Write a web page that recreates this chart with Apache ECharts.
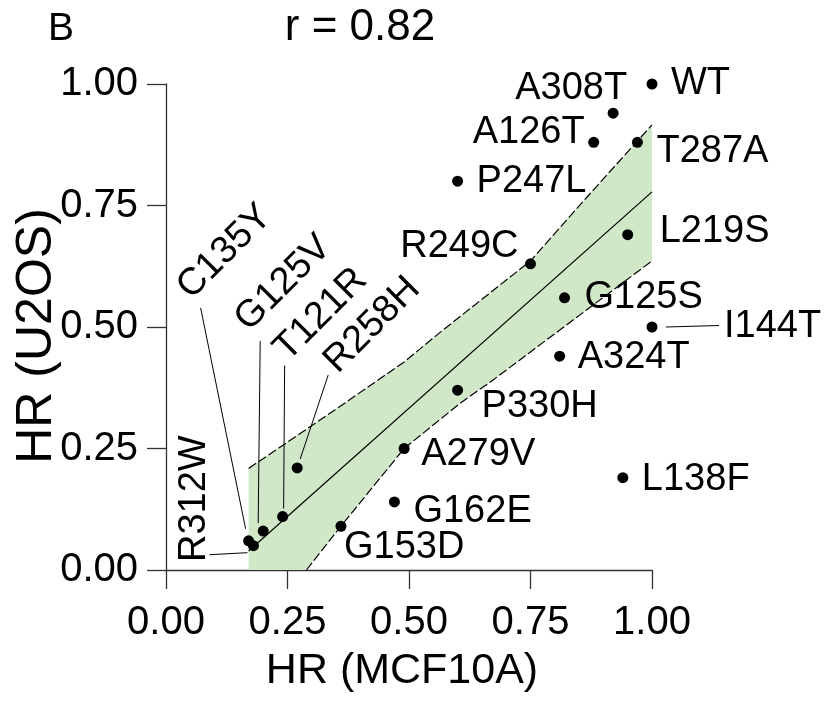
<!DOCTYPE html>
<html>
<head>
<meta charset="utf-8">
<script src="https://cdn.jsdelivr.net/npm/echarts@6/dist/echarts.min.js"></script>
<style>
  html, body { margin: 0; padding: 0; background: #fff; }
  #chart { width: 825px; height: 711px; }
</style>
</head>
<body>
<div id="chart"></div>
<script>
// mutants, HR in MCF10A (x) vs HR in U2OS (y)
const names = ['WT', 'A308T', 'A126T', 'T287A', 'P247L', 'L219S', 'R249C', 'G125S', 'I144T', 'A324T',
  'P330H', 'A279V', 'L138F', 'G162E', 'G153D', 'R258H', 'T121R', 'G125V', 'C135Y', 'R312W'];
const hrMCF10A = [1.00, 0.92, 0.88, 0.97, 0.60, 0.95, 0.75, 0.82, 1.00, 0.81,
  0.60, 0.49, 0.94, 0.47, 0.36, 0.27, 0.24, 0.20, 0.17, 0.18];
const hrU2OS = [1.00, 0.94, 0.88, 0.88, 0.80, 0.69, 0.63, 0.56, 0.50, 0.44,
  0.37, 0.25, 0.19, 0.14, 0.09, 0.21, 0.11, 0.08, 0.06, 0.05];

// regression line and its confidence band
const fitX = [0.17, 1.00];
const fitY = [0.039, 0.778];
const bandUpperX = [0.17, 0.36, 0.49, 0.564, 0.75, 0.866, 1.00];
const bandUpperY = [0.209, 0.338, 0.428, 0.489, 0.636, 0.767, 0.916];
const bandLowerX = [0.289, 0.359, 0.49, 0.605, 0.673, 1.00];
const bandLowerY = [0.000, 0.089, 0.250, 0.343, 0.391, 0.636];

const tickLabels = ['0.00', '0.25', '0.50', '0.75', '1.00'];

const FONT = 'Liberation Sans, Arial, sans-serif';

// label placement (pixels from the dot)
const labelPos = {
  WT:    { align: 'left',  dx: 19,  dy: 0 },
  A308T: { align: 'right', dx: 14,  dy: -25 },
  A126T: { align: 'right', dx: -9,  dy: -10 },
  T287A: { align: 'left',  dx: 19,  dy: 9 },
  P247L: { align: 'left',  dx: 19,  dy: 0 },
  L219S: { align: 'left',  dx: 32,  dy: -3 },
  R249C: { align: 'right', dx: -12, dy: -17 },
  G125S: { align: 'left',  dx: 20,  dy: 0 },
  I144T: { align: 'left',  dx: 72,  dy: 0, lead: [[14, 0], [67, -1.5]] },
  A324T: { align: 'left',  dx: 18,  dy: 1 },
  P330H: { align: 'left',  dx: 24,  dy: 16 },
  A279V: { align: 'left',  dx: 17,  dy: 6 },
  L138F: { align: 'left',  dx: 19,  dy: 2 },
  G162E: { align: 'left',  dx: 19,  dy: 10 },
  G153D: { align: 'left',  dx: 3,   dy: 21 },
  R258H: { align: 'center', dx: 75,  dy: -143, rot: 45, lead: [[3, -9], [31, -93]] },
  T121R: { align: 'center', dx: 38,  dy: -202, rot: 45, lead: [[1, -8], [2, -151]] },
  G125V: { align: 'center', dx: 20,  dy: -248, rot: 45, lead: [[-5, -8], [-3, -190]] },
  C135Y: { align: 'center', dx: -24, dy: -289, rot: 45, lead: [[-3, -12], [-48, -233]] },
  R312W: { align: 'center', dx: -59, dy: -47,  rot: 90, lead: [[-6, 7], [-44, 9]] }
};

const points = names.map((n, i) => [hrMCF10A[i], hrU2OS[i]]);
const axisCol = '#333';

const chart = echarts.init(document.getElementById('chart'));

const option = {
  animation: false,
  textStyle: { fontFamily: FONT },
  grid: { left: 166, top: 84, width: 486, height: 486 },
  xAxis: {
    type: 'value', min: 0, max: 1, interval: 0.25,
    axisLine: { show: true, onZero: false, lineStyle: { color: axisCol, width: 1.3 } },
    axisTick: { show: true, length: 19, lineStyle: { color: axisCol, width: 1.3 } },
    axisLabel: { fontSize: 40, color: '#000', margin: 33, fontFamily: FONT,
      formatter: v => tickLabels[Math.round(v * 4)] },
    splitLine: { show: false }
  },
  yAxis: {
    type: 'value', min: 0, max: 1, interval: 0.25,
    axisLine: { show: true, onZero: false, lineStyle: { color: axisCol, width: 1.3 } },
    axisTick: { show: true, length: 19, lineStyle: { color: axisCol, width: 1.3 } },
    axisLabel: { fontSize: 40, color: '#000', margin: 28, fontFamily: FONT,
      formatter: v => tickLabels[Math.round(v * 4)] },
    splitLine: { show: false }
  },
  graphic: [
    { type: 'text', x: 61, y: 29, style: { text: 'B', font: '39px ' + FONT, fill: '#000', align: 'center', verticalAlign: 'middle' } },
    { type: 'text', x: 360, y: 28, style: { text: 'r = 0.82', font: '44px ' + FONT, fill: '#000', align: 'center', verticalAlign: 'middle' } },
    { type: 'text', x: 402, y: 671, style: { text: 'HR (MCF10A)', font: '43px ' + FONT, fill: '#000', align: 'center', verticalAlign: 'middle' } },
    { type: 'text', x: 37, y: 336, rotation: Math.PI / 2, style: { text: 'HR (U2OS)', font: '50px ' + FONT, fill: '#000', align: 'center', verticalAlign: 'middle' } }
  ],
  series: [
    {
      // confidence band fill
      type: 'custom',
      silent: true,
      z: 1,
      data: [[0]],
      renderItem: (params, api) => {
        const pts = [];
        bandUpperX.forEach((x, i) => pts.push(api.coord([x, bandUpperY[i]])));
        for (let i = bandLowerX.length - 1; i >= 0; i--) pts.push(api.coord([bandLowerX[i], bandLowerY[i]]));
        pts.push(api.coord([bandUpperX[0], 0]));
        return { type: 'polygon', shape: { points: pts }, style: { fill: '#d0e8c8' } };
      }
    },
    {
      type: 'line', z: 2, symbol: 'none', silent: true,
      data: bandUpperX.map((x, i) => [x, bandUpperY[i]]),
      lineStyle: { color: '#000', width: 1.2, type: [9, 3] }
    },
    {
      type: 'line', z: 2, symbol: 'none', silent: true,
      data: bandLowerX.map((x, i) => [x, bandLowerY[i]]),
      lineStyle: { color: '#000', width: 1.2, type: [9, 3] }
    },
    {
      type: 'line', z: 2, symbol: 'none', silent: true,
      data: fitX.map((x, i) => [x, fitY[i]]),
      lineStyle: { color: '#000', width: 1.2 }
    },
    {
      type: 'scatter', z: 3,
      symbolSize: 11,
      itemStyle: { color: '#000', opacity: 1 },
      data: points
    },
    {
      // mutant names and leader lines
      type: 'custom', z: 4, silent: true,
      data: points,
      renderItem: (params, api) => {
        const name = names[params.dataIndex];
        const lp = labelPos[name];
        const c = api.coord([api.value(0), api.value(1)]);
        const children = [{
          type: 'text',
          x: c[0] + lp.dx, y: c[1] + lp.dy,
          rotation: (lp.rot || 0) * Math.PI / 180,
          style: { text: name, font: '38px ' + FONT, fill: '#000', align: lp.align, verticalAlign: 'middle' }
        }];
        if (lp.lead) {
          children.push({
            type: 'line',
            shape: { x1: c[0] + lp.lead[0][0], y1: c[1] + lp.lead[0][1], x2: c[0] + lp.lead[1][0], y2: c[1] + lp.lead[1][1] },
            style: { stroke: '#000', lineWidth: 1 }
          });
        }
        return { type: 'group', children };
      }
    }
  ]
};

chart.setOption(option);
</script>
</body>
</html>
